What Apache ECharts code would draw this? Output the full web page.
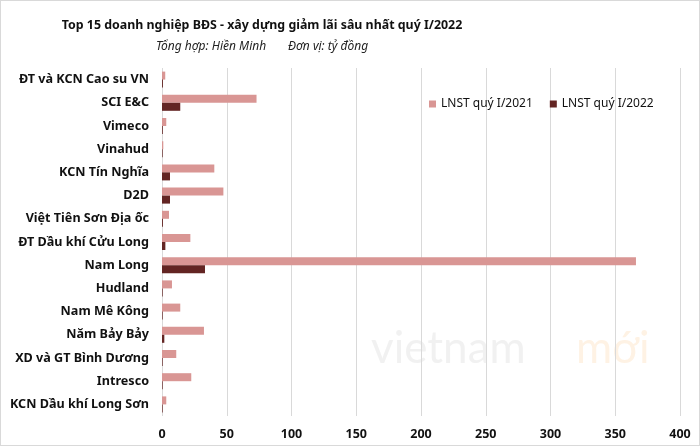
<!DOCTYPE html>
<html>
<head>
<meta charset="utf-8">
<script src="https://cdn.jsdelivr.net/npm/echarts@6/dist/echarts.min.js"></script>
<style>
  html, body { margin: 0; padding: 0; background: #fff; }
  #main { width: 698px; height: 444px; border: 1px solid #d9d9d9; }
</style>
</head>
<body>
<div id="main"></div>
<script>
// 15 doanh nghiep, tu tren xuong duoi
var companies = ['ĐT và KCN Cao su VN', 'SCI E&C', 'Vimeco', 'Vinahud', 'KCN Tín Nghĩa', 'D2D',
    'Việt Tiên Sơn Địa ốc', 'ĐT Dầu khí Cửu Long', 'Nam Long', 'Hudland', 'Nam Mê Kông',
    'Năm Bảy Bảy', 'XD và GT Bình Dương', 'Intresco', 'KCN Dầu khí Long Sơn'];
var lnst2021 = [2.5, 73, 3.3, 1, 40.4, 47.4, 5.4, 21.9, 366, 7.7, 14.1, 32.4, 11, 22.6, 3.3];
var lnst2022 = [0.7, 14.1, 0.6, 0.5, 6.2, 6.2, 0.7, 2.6, 33.2, 0.5, 0.5, 1.8, 0.5, 0.5, 0.5];
var xTicks = [0, 50, 100, 150, 200, 250, 300, 350, 400];

var seriesNames = ['LNST quý I/2021', 'LNST quý I/2022'];
var font = 'Noto Sans';

var chart = echarts.init(document.getElementById('main'));
var option = {
    backgroundColor: '#fff',
    animation: false,
    legend: {
        data: seriesNames,
        left: 423,
        top: 92,
        itemWidth: 7,
        itemHeight: 7,
        itemGap: 17,
        icon: 'rect',
        textStyle: {fontFamily: font, fontSize: 12, color: '#111'}
    },
    grid: {left: 161, right: 19, top: 67, bottom: 29},
    xAxis: {
        type: 'value',
        min: xTicks[0],
        max: xTicks[xTicks.length - 1],
        interval: 50,
        axisLine: {show: false},
        axisTick: {show: false},
        axisLabel: {fontFamily: font, fontSize: 12.5, fontWeight: 'bold', color: '#111', margin: 12},
        splitLine: {lineStyle: {color: '#d9d9d9', width: 1}}
    },
    yAxis: {
        type: 'category',
        inverse: true,
        data: companies,
        axisLine: {show: false},
        axisTick: {show: false},
        axisLabel: {fontFamily: font, fontSize: 12.6, fontWeight: 'bold', color: '#111', margin: 13}
    },
    series: [
        {
            name: seriesNames[0],
            type: 'bar',
            barWidth: 8,
            barGap: '0%',
            itemStyle: {color: '#d99694'},
            data: lnst2021
        },
        {
            name: seriesNames[1],
            type: 'bar',
            barWidth: 8,
            barGap: '0%',
            itemStyle: {color: '#632523'},
            data: lnst2022
        }
    ],
    graphic: [
        {
            type: 'text', x: 261, y: 24, silent: true,
            style: {
                text: 'Top 15 doanh nghiệp BĐS - xây dựng giảm lãi sâu nhất quý I/2022',
                fontFamily: font, fontSize: 12.4, fontWeight: 'bold', fill: '#111',
                align: 'center', verticalAlign: 'middle'
            }
        },
        {
            type: 'text', x: 261, y: 46, silent: true,
            style: {
                text: 'Tổng hợp: Hiền Minh       Đơn vị: tỷ đồng',
                fontFamily: font, fontSize: 12, fontStyle: 'italic', fill: '#222',
                align: 'center', verticalAlign: 'middle'
            }
        },
        {
            type: 'text', left: 370, top: 326, silent: true, z: -1,
            style: {text: 'vietnam', fontFamily: 'Lato', fontSize: 44, fill: 'rgba(200,200,200,0.25)'}
        },
        {
            type: 'text', left: 575, top: 326, silent: true, z: -1,
            style: {text: 'mới', fontFamily: 'Lato', fontSize: 44, fill: 'rgba(252,190,120,0.2)'}
        }
    ]
};
chart.setOption(option);
window.addEventListener('resize', function () {
    chart.resize();
});
</script>
</body>
</html>
